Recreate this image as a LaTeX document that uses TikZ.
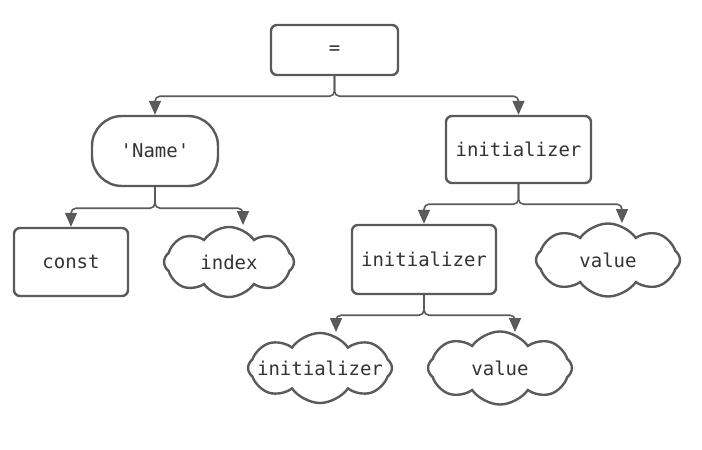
\documentclass[tikz,border=0pt]{standalone}
\usepackage{fontspec}
\setmonofont{DejaVu Sans Mono}
\usetikzlibrary{shapes.symbols,arrows.meta}
\definecolor{edge}{HTML}{5A5A5A}
\definecolor{ink}{HTML}{333333}
\tikzset{
  every node/.style={font=\ttfamily\fontsize{19}{23}\selectfont, text=ink},
  box/.style={draw=edge, line width=2.4pt, rounded corners=6pt, inner sep=0pt},
  pill/.style={draw=edge, line width=2.4pt, rounded corners=30pt, inner sep=0pt,
    minimum width=126pt, minimum height=70pt},
  puff/.style={draw=edge, line width=2.4pt, cloud, cloud puffs=8, cloud puff arc=110,
    cloud ignores aspect, inner sep=0pt, minimum width=130pt, minimum height=70pt},
  link/.style={draw=edge, line width=1.6pt, rounded corners=5pt,
    -{Triangle[length=14pt,width=12pt]}}
}
\begin{document}
\begin{tikzpicture}[x=1pt,y=-1pt]
\useasboundingbox (0,0) rectangle (702,450);
\node[box, minimum width=127pt, minimum height=50pt] (eq) at (334.5,50) {=};
\node[pill] (name) at (155,151) {'Name'};
\node[box, minimum width=145pt, minimum height=67pt] (init) at (518.5,149.5) {initializer};

\node[box, minimum width=114pt, minimum height=68pt] (const) at (71,262) {const};
\node[puff] (index) at (229,262) {index};
\node[box, minimum width=144pt, minimum height=69pt] (initb) at (424,259.5) {initializer};
\node[puff, minimum width=144pt, minimum height=73pt] (value) at (608,260) {value};

\node[puff, minimum width=144pt, inner xsep=-28pt] (initc) at (320,368) {initializer};
\node[puff, minimum width=144pt, minimum height=73pt] (valueb) at (500,368) {value};

% edges
\coordinate (indextop) at (243,225);
\coordinate (valuetop) at (622,223);
\coordinate (initctop) at (336,332);
\coordinate (valuebtop) at (515,332);
\draw[link] (eq.south) -- ++(0,20) -| (name.north);
\draw[link] (eq.south) -- ++(0,20) -| (init.north);
\draw[link] (name.south) -- ++(0,21) -| (const.north);
\draw[link] (name.south) -- ++(0,21) -| (indextop);
\draw[link] (init.south) -- ++(0,20) -| (initb.north);
\draw[link] (init.south) -- ++(0,20) -| (valuetop);
\draw[link] (initb.south) -- ++(0,20) -| (initctop);
\draw[link] (initb.south) -- ++(0,20) -| (valuebtop);
\end{tikzpicture}
\end{document}
